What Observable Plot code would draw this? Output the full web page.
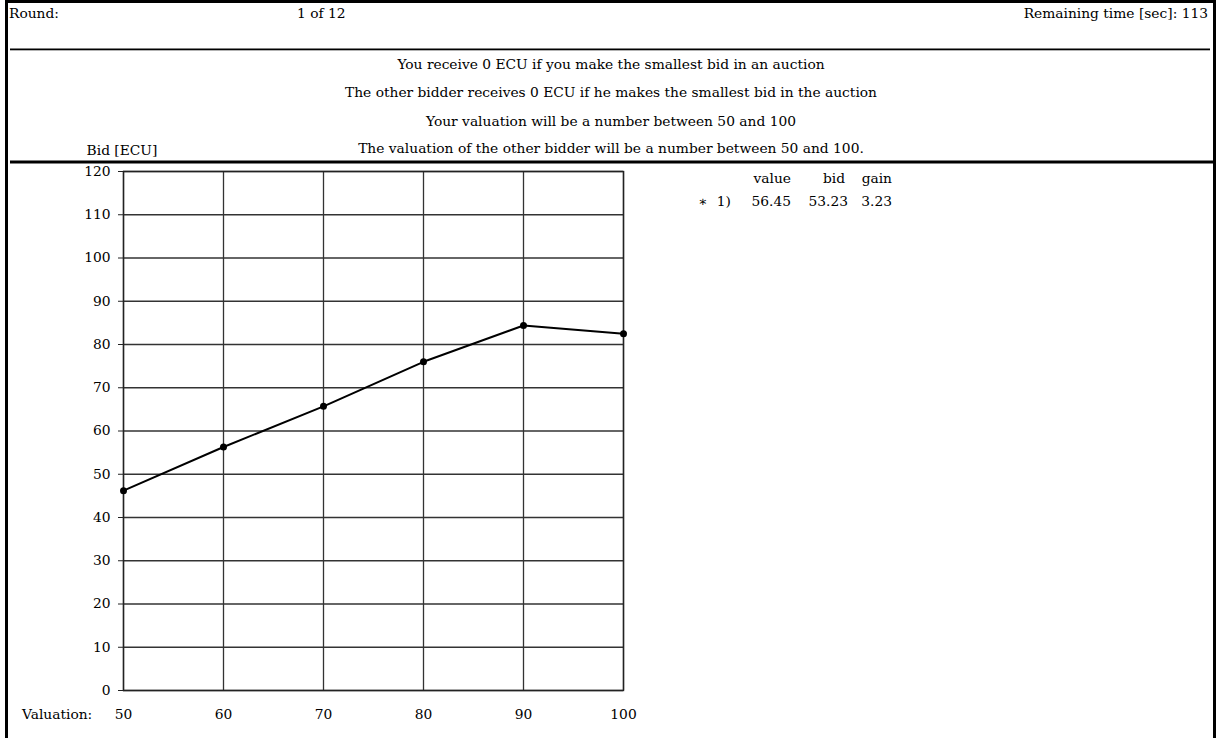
<!DOCTYPE html>
<html><head><meta charset="utf-8">
<script src="https://cdn.jsdelivr.net/npm/d3@7"></script>
<script src="https://cdn.jsdelivr.net/npm/@observablehq/plot@0.6"></script>
<style>
body{margin:0;background:#fff;}
#page{position:relative;width:1217px;height:738px;overflow:hidden;background:#fff;}
#chart{position:absolute;left:0;top:160px;}
#overlay{position:absolute;left:0;top:0;}
</style></head>
<body><div id="page"><div id="chart"></div><svg id="overlay" width="1217" height="738"></svg></div>
<script>
// ---- data ----
const roundLabel = "Round:";
const roundValue = "1 of 12";
const timeLabel = "Remaining time [sec]: 113";
const headerLines = [
  "You receive 0 ECU if you make the smallest bid in an auction",
  "The other bidder receives 0 ECU if he makes the smallest bid in the auction",
  "Your valuation will be a number between 50 and 100",
  "The valuation of the other bidder will be a number between 50 and 100."
];
const yAxisTitle = "Bid [ECU]";
const xAxisTitle = "Valuation:";
const valuations = [50, 60, 70, 80, 90, 100];
const bids = [46.2, 56.3, 65.7, 76.0, 84.4, 82.5];
const xTicks = [50, 60, 70, 80, 90, 100];
const yTicks = [0, 10, 20, 30, 40, 50, 60, 70, 80, 90, 100, 110, 120];
const tableHeaders = ["value", "bid", "gain"];
const tableStars = ["∗"];
const tableIndex = ["1)"];
const tableValue = ["56.45"];
const tableBid = ["53.23"];
const tableGain = ["3.23"];

// ---- chart ----
const FONT = "'DejaVu Serif', serif";
const FS = "13.8px";
const data = valuations.map((v, i) => ({valuation: v, bid: bids[i]}));
const chart = Plot.plot({
  width: 660, height: 578,
  marginLeft: 123, marginRight: 37, marginTop: 11, marginBottom: 48,
  x: {domain: [50, 100]},
  y: {domain: [0, 120]},
  style: {fontFamily: FONT, fontSize: FS, color: "#000", background: "transparent", overflow: "visible"},
  marks: [
    Plot.gridX(xTicks, {stroke: "#333", strokeOpacity: 1, strokeWidth: 1.3}),
    Plot.gridY(yTicks, {stroke: "#333", strokeOpacity: 1, strokeWidth: 1.3}),
    Plot.frame({stroke: "#222", strokeWidth: 1.4}),
    Plot.axisY(yTicks, {tickSize: 5, tickPadding: 8, label: null, stroke: "#222"}),
    Plot.axisX(xTicks, {tickSize: 0, tickPadding: 19, label: null}),
    Plot.line(data, {x: "valuation", y: "bid", stroke: "#000", strokeWidth: 2}),
    Plot.dot(data, {x: "valuation", y: "bid", r: 3.5, fill: "#000"})
  ]
});
document.getElementById("chart").appendChild(chart);

// ---- page frame and texts ----
const svg = d3.select("#overlay").style("font-family", FONT).style("font-size", FS);
svg.append("rect").attr("x", 5).attr("y", 0).attr("width", 1211).attr("height", 3).attr("fill", "#000");
svg.append("rect").attr("x", 5).attr("y", 0).attr("width", 3).attr("height", 738).attr("fill", "#000");
svg.append("rect").attr("x", 1213).attr("y", 0).attr("width", 3).attr("height", 738).attr("fill", "#000");
svg.append("rect").attr("x", 10).attr("y", 48.5).attr("width", 1200).attr("height", 1.8).attr("fill", "#000");
svg.append("rect").attr("x", 10).attr("y", 160.5).attr("width", 1203).attr("height", 3).attr("fill", "#000");

function txt(s, x, y, anchor) {
  return svg.append("text").attr("x", x).attr("y", y).attr("text-anchor", anchor || "start").attr("fill", "#000").text(s);
}
txt(roundLabel, 9, 18);
txt(roundValue, 297, 18);
txt(timeLabel, 1208, 18, "end");
const headerBaselines = [68.5, 97, 125.5, 153];
headerLines.forEach((s, i) => txt(s, 611, headerBaselines[i], "middle"));
txt(yAxisTitle, 122, 155, "middle");
txt(xAxisTitle, 22, 719);

// table
txt(tableHeaders[0], 791, 183, "end");
txt(tableHeaders[1], 845, 183, "end");
txt(tableHeaders[2], 892, 183, "end");
tableValue.forEach((v, i) => {
  const y = 206 + i * 23;
  txt(tableStars[i], 703, y, "middle");
  txt(tableIndex[i], 731, y, "end");
  txt(v, 791, y, "end");
  txt(tableBid[i], 848, y, "end");
  txt(tableGain[i], 892, y, "end");
});
</script></body></html>
